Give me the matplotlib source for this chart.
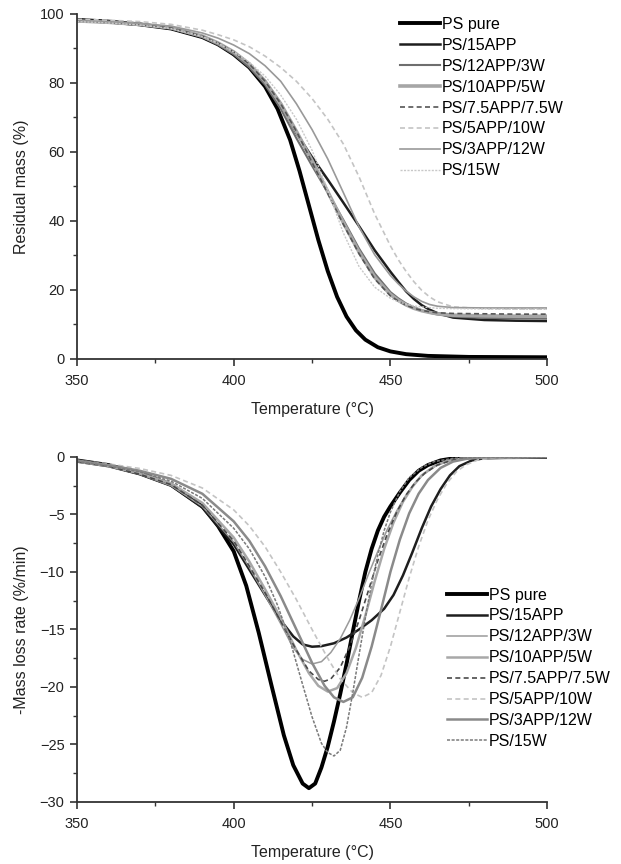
import matplotlib
matplotlib.use("Agg")
import matplotlib.pyplot as plt
from matplotlib.ticker import MultipleLocator

plt.rcParams['font.family'] = ['Liberation Sans', 'DejaVu Sans']

labels = ["PS pure", "PS/15APP", "PS/12APP/3W", "PS/10APP/5W",
          "PS/7.5APP/7.5W", "PS/5APP/10W", "PS/3APP/12W", "PS/15W"]

# ---------- TGA: residual mass (%) ----------
tga_T_pure = [350, 360, 370, 380, 390, 395, 400, 405, 410, 414, 418, 421, 424, 427, 430, 433, 436, 439, 442, 446, 450, 455, 462, 475, 500]
tga_pure = [98.3, 97.8, 97.0, 95.8, 93.3, 91.2, 88.3, 84.5, 79.0, 72.5, 63.5, 54.5, 44.5, 34.5, 25.5, 18.0, 12.3, 8.3, 5.6, 3.4, 2.2, 1.4, 0.9, 0.6, 0.5]

tga_T = [350, 360, 370, 380, 390, 395, 400, 405, 410, 415, 420, 425, 430, 435, 440, 445, 450, 452.5, 455, 457.5, 460, 462.5, 465, 470, 480, 490, 500]
tga_15app =    [98.0, 97.6, 96.9, 95.8, 93.3, 91.2, 88.5, 85.0, 80.5, 74.0, 65.5, 58.5, 52.0, 45.3, 38.5, 31.5, 25.3, 22.4, 19.6, 17.4, 15.6, 14.3, 13.3, 12.0, 11.3, 11.1, 11.0]
tga_12app3w =  [98.0, 97.6, 96.9, 95.8, 93.3, 91.1, 88.3, 84.5, 79.5, 72.5, 64.0, 56.0, 48.3, 40.3, 32.0, 24.8, 19.4, 17.6, 16.1, 15.0, 14.1, 13.4, 12.9, 12.3, 11.9, 11.8, 11.7]
tga_10app5w =  [98.0, 97.6, 97.0, 96.0, 93.6, 91.6, 89.0, 85.5, 80.5, 74.0, 66.0, 57.5, 48.5, 39.5, 31.0, 23.7, 18.7, 17.0, 15.7, 14.7, 14.0, 13.5, 13.1, 12.7, 12.5, 12.4, 12.4]
tga_75app75w = [98.0, 97.6, 97.0, 96.0, 93.6, 91.6, 89.0, 85.5, 80.5, 74.0, 66.0, 57.0, 48.0, 39.0, 30.5, 23.2, 18.3, 16.8, 15.6, 14.7, 14.1, 13.7, 13.4, 13.2, 13.1, 13.0, 13.0]
tga_5app10w =  [98.5, 98.2, 97.8, 97.0, 95.3, 94.0, 92.5, 90.5, 87.8, 84.5, 80.5, 75.5, 69.5, 62.3, 52.8, 42.0, 32.8, 28.8, 25.4, 22.4, 19.9, 18.0, 16.6, 15.1, 14.6, 14.5, 14.5]
tga_3app12w =  [98.0, 97.7, 97.2, 96.5, 94.5, 93.0, 91.0, 88.5, 85.0, 80.5, 74.0, 66.5, 58.0, 48.2, 38.3, 30.2, 24.2, 21.8, 19.7, 18.0, 16.7, 15.8, 15.3, 14.9, 14.8, 14.8, 14.8]
tga_15w =      [97.8, 97.4, 96.8, 95.8, 93.5, 91.5, 89.0, 86.0, 82.0, 76.5, 69.5, 60.5, 49.0, 36.5, 26.8, 20.8, 17.6, 16.6, 15.9, 15.4, 15.1, 14.9, 14.7, 14.6, 14.5, 14.4, 14.4]

# ---------- DTG: -mass loss rate (%/min) ----------
dtg_T_pure = [350, 360, 370, 380, 390, 395, 400, 404, 408, 412, 416, 419, 422, 424, 426, 428, 430, 432, 434, 436, 438, 440, 442, 444, 446, 448, 450, 453, 456, 459, 462, 466, 470, 476, 500]
dtg_pure = [-0.3, -0.7, -1.4, -2.4, -4.3, -6.0, -8.2, -11.2, -15.3, -19.8, -24.2, -26.8, -28.4, -28.8, -28.4, -27.0, -25.2, -23.0, -20.6, -18.0, -15.2, -12.5, -10.0, -8.0, -6.4, -5.2, -4.3, -3.1, -2.0, -1.2, -0.7, -0.3, -0.12, -0.03, 0.0]

dtg_T_15app = [350, 360, 370, 380, 390, 400, 405, 410, 415, 419, 422, 425, 428, 432, 436, 440, 444, 448, 451, 454, 457, 460, 463, 466, 469, 472, 476, 480, 500]
dtg_15app = [-0.4, -0.8, -1.5, -2.5, -4.4, -7.6, -9.8, -12.0, -14.2, -15.6, -16.3, -16.5, -16.45, -16.2, -15.7, -15.0, -14.2, -13.2, -12.0, -10.3, -8.3, -6.2, -4.3, -2.8, -1.6, -0.8, -0.3, -0.1, 0.0]

dtg_T_12app3w = [350, 360, 370, 380, 390, 400, 405, 410, 415, 419, 422, 425, 428, 431, 434, 437, 440, 443, 446, 449, 452, 455, 458, 461, 465, 470, 476, 500]
dtg_12app3w = [-0.4, -0.8, -1.5, -2.5, -4.3, -7.4, -9.6, -12.0, -14.5, -16.6, -17.6, -18.0, -17.8, -17.0, -15.8, -14.2, -12.3, -10.2, -8.2, -6.3, -4.7, -3.3, -2.2, -1.4, -0.7, -0.25, -0.05, 0.0]

dtg_T_10app5w = [350, 360, 370, 380, 390, 400, 405, 410, 415, 420, 424, 427, 430, 433, 436, 439, 442, 445, 448, 451, 454, 457, 460, 464, 468, 474, 500]
dtg_10app5w = [-0.4, -0.8, -1.4, -2.3, -4.0, -7.0, -9.1, -11.5, -14.0, -16.8, -18.8, -19.9, -20.4, -20.1, -18.8, -16.6, -13.8, -10.8, -8.0, -5.7, -3.9, -2.6, -1.6, -0.8, -0.35, -0.1, 0.0]

dtg_T_75app75w = [350, 360, 370, 380, 390, 400, 405, 410, 415, 420, 424, 427, 429, 431, 434, 437, 440, 443, 446, 449, 452, 455, 458, 461, 465, 470, 476, 500]
dtg_75app75w = [-0.4, -0.8, -1.5, -2.4, -4.2, -7.3, -9.5, -11.8, -14.3, -16.8, -18.6, -19.35, -19.5, -19.3, -18.3, -16.5, -14.2, -11.6, -9.0, -6.7, -4.8, -3.3, -2.2, -1.4, -0.7, -0.25, -0.05, 0.0]

dtg_T_5app10w = [350, 360, 370, 380, 390, 400, 405, 410, 415, 420, 425, 430, 434, 438, 441, 444, 447, 450, 453, 456, 459, 462, 465, 468, 471, 474, 478, 483, 500]
dtg_5app10w = [-0.3, -0.6, -1.0, -1.6, -2.7, -4.6, -6.0, -7.8, -10.0, -12.4, -15.0, -17.5, -19.3, -20.5, -20.9, -20.5, -19.0, -16.5, -13.5, -10.5, -7.8, -5.5, -3.7, -2.3, -1.3, -0.7, -0.25, -0.07, 0.0]

dtg_T_3app12w = [350, 360, 370, 380, 390, 400, 405, 410, 415, 420, 425, 429, 432, 435, 438, 441, 444, 447, 450, 453, 456, 459, 462, 466, 470, 475, 480, 500]
dtg_3app12w = [-0.3, -0.7, -1.2, -1.9, -3.2, -5.6, -7.3, -9.5, -12.1, -15.0, -17.9, -19.9, -20.9, -21.3, -20.9, -19.2, -16.5, -13.3, -10.0, -7.2, -4.9, -3.2, -2.0, -0.95, -0.4, -0.12, -0.03, 0.0]

dtg_T_15w = [350, 360, 370, 380, 390, 400, 405, 410, 414, 418, 422, 425, 428, 430, 432, 434, 436, 438, 440, 442, 444, 446, 448, 450, 453, 456, 460, 464, 470, 480, 500]
dtg_15w = [-0.4, -0.8, -1.3, -2.1, -3.6, -6.2, -8.0, -10.4, -12.9, -16.0, -19.8, -22.6, -24.9, -25.7, -26.0, -25.5, -23.5, -20.5, -17.2, -14.0, -11.0, -8.5, -6.4, -4.8, -3.0, -1.8, -0.9, -0.4, -0.12, 0.0, 0.0]

tga_series = [(tga_T_pure, tga_pure), (tga_T, tga_15app), (tga_T, tga_12app3w), (tga_T, tga_10app5w),
              (tga_T, tga_75app75w), (tga_T, tga_5app10w), (tga_T, tga_3app12w), (tga_T, tga_15w)]
dtg_series = [(dtg_T_pure, dtg_pure), (dtg_T_15app, dtg_15app), (dtg_T_12app3w, dtg_12app3w),
              (dtg_T_10app5w, dtg_10app5w), (dtg_T_75app75w, dtg_75app75w), (dtg_T_5app10w, dtg_5app10w),
              (dtg_T_3app12w, dtg_3app12w), (dtg_T_15w, dtg_15w)]

top_styles = [
    dict(color='#000000', lw=2.8, ls='-'),
    dict(color='#1e1e1e', lw=1.8, ls='-'),
    dict(color='#6e6e6e', lw=1.5, ls='-'),
    dict(color='#a6a6a6', lw=2.6, ls='-'),
    dict(color='#555555', lw=1.2, ls=(0, (3, 2))),
    dict(color='#c4c4c4', lw=1.2, ls=(0, (3, 2))),
    dict(color='#999999', lw=1.2, ls='-'),
    dict(color='#c8c8c8', lw=1.0, ls=(0, (1.5, 1))),
]
bot_styles = [
    dict(color='#000000', lw=2.8, ls='-'),
    dict(color='#1e1e1e', lw=1.8, ls='-'),
    dict(color='#9a9a9a', lw=1.1, ls='-'),
    dict(color='#a8a8a8', lw=1.8, ls='-'),
    dict(color='#4a4a4a', lw=1.2, ls=(0, (3, 2))),
    dict(color='#c4c4c4', lw=1.2, ls=(0, (3, 2))),
    dict(color='#8a8a8a', lw=1.8, ls='-'),
    dict(color='#7a7a7a', lw=1.1, ls=(0, (2, 1))),
]

fig = plt.figure(figsize=(6.21, 8.64), dpi=100)
ax1 = fig.add_axes([0.124, 0.5845, 0.757, 0.3993])
ax2 = fig.add_axes([0.124, 0.0718, 0.757, 0.3993])

for (x, y), lab, st in zip(tga_series, labels, top_styles):
    ax1.plot(x, y, label=lab, solid_joinstyle='round', **st)
for (x, y), lab, st in zip(dtg_series, labels, bot_styles):
    ax2.plot(x, y, label=lab, solid_joinstyle='round', **st)

def style(ax, ylim, ymaj, ymin_, ylabel):
    ax.set_xlim(350, 500)
    ax.set_ylim(*ylim)
    ax.xaxis.set_major_locator(MultipleLocator(50))
    ax.xaxis.set_minor_locator(MultipleLocator(25))
    ax.yaxis.set_major_locator(MultipleLocator(ymaj))
    ax.yaxis.set_minor_locator(MultipleLocator(ymin_))
    for s in ['top', 'right']:
        ax.spines[s].set_visible(False)
    for s in ['left', 'bottom']:
        ax.spines[s].set_linewidth(1.3)
        ax.spines[s].set_color('#333333')
    ax.tick_params(which='major', direction='out', length=5, width=1.2, labelsize=10.5,
                   colors='#333333', labelcolor='#222222', pad=4)
    ax.tick_params(axis='x', which='major', pad=6)
    ax.tick_params(which='minor', direction='out', length=3, width=1.0, colors='#333333')
    ax.set_xlabel('Temperature (°C)', fontsize=11.5, color='#222222', labelpad=10)
    ax.set_ylabel(ylabel, fontsize=11.5, color='#222222', labelpad=8)

style(ax1, (0, 100), 20, 10, 'Residual mass (%)')
style(ax2, (-30, 0), 5, 2.5, '-Mass loss rate (%/min)')

leg_kw = dict(frameon=False, fontsize=11.5, handlelength=2.5, handletextpad=0.15,
              labelspacing=0.37, borderaxespad=0)
ax1.legend(loc='upper left', bbox_to_anchor=(0.673, 1.01), **leg_kw)
ax2.legend(loc='upper left', bbox_to_anchor=(0.773, 0.64), **leg_kw)

fig.savefig('out.png', dpi=100)
